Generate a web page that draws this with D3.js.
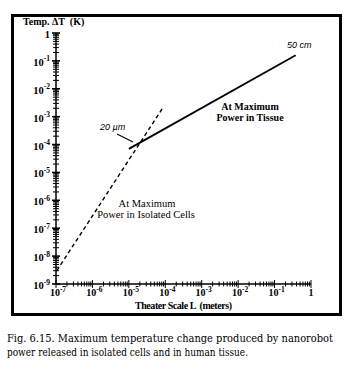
<!DOCTYPE html>
<html>
<head>
<meta charset="utf-8">
<script src="https://cdn.jsdelivr.net/npm/d3@7"></script>
<style>
  body { margin: 0; background: #fff; }
  svg { display: block; }
</style>
</head>
<body>
<div id="chart"></div>
<script>
// values (theater scale L in metres, temperature change in K)
const cellsL = [1.05e-7, 9e-5];
const cellsDT = [3e-9, 2.3e-3];
const tissueL = [1e-5, 0.38];
const tissueDT = [7e-5, 0.16];
const xTickExps = [-7, -6, -5, -4, -3, -2, -1, 0];
const yTickExps = [0, -1, -2, -3, -4, -5, -6, -7, -8, -9];

const width = 354, height = 369;
const serif = "'Liberation Serif', 'Times New Roman', serif";

const svg = d3.select('#chart')
    .append('svg')
    .attr('width', width)
    .attr('height', height)
    .style('background', '#fff');

// frame round the plot
svg.append('rect')
    .attr('x', 12.5).attr('y', 15.5)
    .attr('width', 328).attr('height', 299)
    .attr('fill', 'none')
    .attr('stroke', '#000')
    .attr('stroke-width', 3);

const x = d3.scaleLog().domain([1e-7, 1]).range([56, 311]);
const y = d3.scaleLog().domain([1e-9, 1]).range([284, 33]);

// axis lines
svg.append('line')
    .attr('x1', x(1e-7)).attr('x2', x(1))
    .attr('y1', y(1e-9)).attr('y2', y(1e-9))
    .attr('stroke', '#000').attr('stroke-width', 1.5);
svg.append('line')
    .attr('x1', x(1e-7)).attr('x2', x(1e-7))
    .attr('y1', y(1e-9)).attr('y2', y(1))
    .attr('stroke', '#000').attr('stroke-width', 1.5);

const isDecade = v => Math.abs(Math.log10(v) - Math.round(Math.log10(v))) < 1e-9;

// ticks cross the axis on both sides
svg.selectAll('.xtick')
    .data(x.ticks())
    .enter()
    .append('line')
    .attr('x1', d => x(d)).attr('x2', d => x(d))
    .attr('y1', d => y(1e-9) - (isDecade(d) ? 4 : 2.5))
    .attr('y2', d => y(1e-9) + (isDecade(d) ? 4 : 2.5))
    .attr('stroke', '#000')
    .attr('stroke-width', 1);

svg.selectAll('.ytick')
    .data(y.ticks())
    .enter()
    .append('line')
    .attr('y1', d => y(d)).attr('y2', d => y(d))
    .attr('x1', d => x(1e-7) - (isDecade(d) ? 4 : 3))
    .attr('x2', d => x(1e-7) + (isDecade(d) ? 4 : 3))
    .attr('stroke', '#000')
    .attr('stroke-width', d => isDecade(d) ? 1.6 : 1);

// tick labels as 10 with a superscript
function powerLabel(sel, e) {
    if (e === 0) {
        sel.text('1');
        return;
    }
    sel.append('tspan').text('10');
    sel.append('tspan')
        .attr('dy', -4.5)
        .style('font-size', '7.5px')
        .text(e);
}

svg.selectAll('.xlabel')
    .data(xTickExps)
    .enter()
    .append('text')
    .attr('x', d => x(Math.pow(10, d)) + (d === 0 ? 0 : 2))
    .attr('y', 296)
    .attr('text-anchor', 'middle')
    .style('font-family', serif)
    .style('font-weight', 'bold')
    .style('font-size', '10px')
    .each(function(d) { powerLabel(d3.select(this), d); });

svg.selectAll('.ylabel')
    .data(yTickExps)
    .enter()
    .append('text')
    .attr('x', 50)
    .attr('y', d => y(Math.pow(10, d)) + 5)
    .attr('text-anchor', 'end')
    .style('font-family', serif)
    .style('font-weight', 'bold')
    .style('font-size', '10.5px')
    .each(function(d) { powerLabel(d3.select(this), d); });

// axis titles
svg.append('text')
    .attr('x', 23).attr('y', 25)
    .style('font-family', serif)
    .style('font-weight', 'bold')
    .style('font-size', '10px')
    .attr('xml:space', 'preserve')
    .text('Temp. \u0394T  (K)');

svg.append('text')
    .attr('x', 135).attr('y', 309)
    .style('font-family', serif)
    .style('font-weight', 'bold')
    .style('font-size', '10px')
    .attr('xml:space', 'preserve')
    .attr('textLength', 97)
    .text('Theater Scale L  (meters)');

// the two curves
const line = d3.line()
    .x(d => x(d[0]))
    .y(d => y(d[1]));

svg.append('path')
    .datum(d3.zip(cellsL, cellsDT))
    .attr('d', line)
    .attr('fill', 'none')
    .attr('stroke', '#000')
    .attr('stroke-width', 1.4)
    .attr('stroke-dasharray', '4,3');

svg.append('path')
    .datum(d3.zip(tissueL, tissueDT))
    .attr('d', line)
    .attr('fill', 'none')
    .attr('stroke', '#000')
    .attr('stroke-width', 1.8);

// annotations
const note = (tx, ty, txt, style) => svg.append('text')
    .attr('x', tx).attr('y', ty)
    .attr('text-anchor', style.anchor || 'start')
    .style('font-family', style.family)
    .style('font-weight', style.weight || 'normal')
    .style('font-style', style.italic ? 'italic' : 'normal')
    .style('font-size', style.size)
    .text(txt);

note(100, 130, '20 \u00b5m', { family: "'Liberation Sans', Arial, sans-serif", italic: true, size: '9px' });
note(287, 48, '50 cm', { family: "'Liberation Sans', Arial, sans-serif", italic: true, size: '9px' });
svg.append('line')
    .attr('x1', 117).attr('y1', 134)
    .attr('x2', 133).attr('y2', 142)
    .attr('stroke', '#000').attr('stroke-width', 1.2);

note(250, 110, 'At Maximum', { family: serif, weight: 'bold', size: '10px', anchor: 'middle' });
note(250, 121, 'Power in Tissue', { family: serif, weight: 'bold', size: '10px', anchor: 'middle' });
note(147, 207, 'At Maximum', { family: serif, size: '10.5px', anchor: 'middle' });
note(146, 218, 'Power in Isolated Cells', { family: serif, size: '10.5px', anchor: 'middle' });

// caption under the figure
const caption = ['Fig. 6.15. Maximum temperature change produced by nanorobot',
                 'power released in isolated cells and in human tissue.'];
const captionWidths = [326, 241];
svg.selectAll('.caption')
    .data(caption)
    .enter()
    .append('text')
    .attr('x', 7)
    .attr('y', (d, i) => 342 + i * 13.5)
    .attr('textLength', (d, i) => captionWidths[i])
    .attr('lengthAdjust', 'spacingAndGlyphs')
    .style('font-family', "'DejaVu Serif', serif")
    .style('font-size', '10.5px')
    .text(d => d);
</script>
</body>
</html>
